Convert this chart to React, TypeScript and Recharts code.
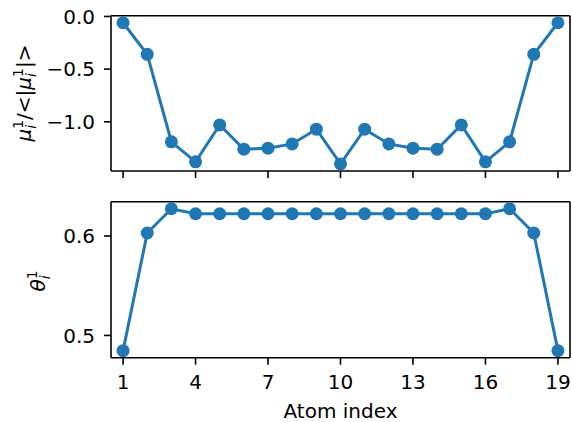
import { LineChart, Line, XAxis, YAxis } from "recharts";

// atom index along the chain
const atoms = [1, 2, 3, 4, 5, 6, 7, 8, 9, 10, 11, 12, 13, 14, 15, 16, 17, 18, 19];

// mu_i^1 / <|mu_i^1|>
const muRatio = [
  -0.06, -0.36, -1.19, -1.38, -1.03, -1.26, -1.25, -1.21, -1.07, -1.4,
  -1.07, -1.21, -1.25, -1.26, -1.03, -1.38, -1.19, -0.36, -0.06,
];

// theta_i^1
const theta = [
  0.4847, 0.603, 0.6274, 0.6224, 0.6224, 0.6224, 0.6224, 0.6224, 0.6224, 0.6224,
  0.6224, 0.6224, 0.6224, 0.6224, 0.6224, 0.6224, 0.6274, 0.603, 0.4847,
];

const xTicks = [1, 4, 7, 10, 13, 16, 19];
const muTicks = [0, -0.5, -1.0];
const thetaTicks = [0.5, 0.6];

const BLUE = "#1f77b4";
const FONT = "'DejaVu Sans', sans-serif";
const X_DOMAIN = [0.5, 19.5];

const muRows = atoms.map((a, i) => ({ atom: a, v: muRatio[i] }));
const thetaRows = atoms.map((a, i) => ({ atom: a, v: theta[i] }));

function fmt(v: number) {
  return v.toFixed(1).replace("-", "\u2212");
}

const tickStyle = { fill: "#000", fontSize: 20, fontFamily: FONT };
const frame = { stroke: "#000", strokeWidth: 1.6 };

// empty tick label, keeps the tick marks
const noLabel = () => <g />;

function MuLabel() {
  const cx = 31;
  const cy = 93;
  return (
    <text
      x={cx}
      y={cy}
      transform={`rotate(-90 ${cx} ${cy})`}
      textAnchor="middle"
      fontSize={20}
      fontFamily={FONT}
      fill="#000"
    >
      <tspan fontStyle="italic">μ</tspan>
      <tspan fontSize={14} dy={-8}>1</tspan>
      <tspan fontSize={14} fontStyle="italic" dx={-8.9} dy={13}>i</tspan>
      <tspan dx={5} dy={-5}>/&lt;|</tspan>
      <tspan fontStyle="italic">μ</tspan>
      <tspan fontSize={14} dy={-8}>1</tspan>
      <tspan fontSize={14} fontStyle="italic" dx={-8.9} dy={13}>i</tspan>
      <tspan dx={5} dy={-5}>|&gt;</tspan>
    </text>
  );
}

function ThetaLabel() {
  const cx = 45;
  const cy = 91;
  return (
    <text
      x={cx}
      y={cy}
      transform={`rotate(-90 ${cx} ${cy})`}
      textAnchor="middle"
      fontSize={20}
      fontFamily={FONT}
      fill="#000"
    >
      <tspan fontStyle="italic">θ</tspan>
      <tspan fontSize={14} dy={-8}>1</tspan>
      <tspan fontSize={14} fontStyle="italic" dx={-8.9} dy={13}>i</tspan>
    </text>
  );
}

function AtomLabel() {
  return (
    <text x={340.5} y={228} textAnchor="middle" fontSize={20} fontFamily={FONT} fill="#000">
      Atom index
    </text>
  );
}

export default function App() {
  return (
    <div style={{ position: "absolute", left: 0, top: 0, width: 572, height: 422, background: "#fff" }}>
      <div style={{ position: "absolute", left: 0, top: 0 }}>
        <LineChart width={572} height={190} data={muRows} margin={{ top: 14.7, right: 1, bottom: 0, left: 0 }}>
          <XAxis
            xAxisId="b"
            dataKey="atom"
            type="number"
            domain={X_DOMAIN}
            ticks={xTicks}
            allowDataOverflow
            tick={noLabel}
            tickSize={7}
            height={19}
            stroke="#000"
            axisLine={frame}
            tickLine={frame}
          />
          <XAxis
            xAxisId="t"
            orientation="top"
            type="number"
            domain={X_DOMAIN}
            ticks={xTicks}
            allowDataOverflow
            tick={false}
            tickLine={false}
            height={1}
            stroke="#000"
            axisLine={frame}
          />
          <YAxis
            yAxisId="l"
            type="number"
            domain={[-1.467, 0.007]}
            ticks={muTicks}
            allowDataOverflow
            tickFormatter={fmt}
            tick={tickStyle}
            tickSize={7}
            tickMargin={9}
            width={111}
            stroke="#000"
            axisLine={frame}
            tickLine={frame}
            label={{ content: () => <MuLabel /> }}
          />
          <YAxis
            yAxisId="r"
            orientation="right"
            type="number"
            domain={[0, 1]}
            ticks={[0, 1]}
            tick={false}
            tickLine={false}
            width={1}
            stroke="#000"
            axisLine={frame}
          />
          <Line
            xAxisId="b"
            yAxisId="l"
            dataKey="v"
            stroke={BLUE}
            strokeWidth={3}
            dot={{ r: 6.5, fill: BLUE, stroke: "none" }}
            activeDot={false}
            isAnimationActive={false}
          />
        </LineChart>
      </div>
      <div style={{ position: "absolute", left: 0, top: 190 }}>
        <LineChart width={572} height={232} data={thetaRows} margin={{ top: 10.7, right: 1, bottom: 0, left: 0 }}>
          <XAxis
            xAxisId="b"
            dataKey="atom"
            type="number"
            domain={X_DOMAIN}
            ticks={xTicks}
            allowDataOverflow
            tick={tickStyle}
            tickSize={7}
            tickMargin={10}
            height={64.3}
            stroke="#000"
            axisLine={frame}
            tickLine={frame}
            label={{ content: () => <AtomLabel /> }}
          />
          <XAxis
            xAxisId="t"
            orientation="top"
            type="number"
            domain={X_DOMAIN}
            ticks={xTicks}
            allowDataOverflow
            tick={false}
            tickLine={false}
            height={1}
            stroke="#000"
            axisLine={frame}
          />
          <YAxis
            yAxisId="l"
            type="number"
            domain={[0.4776, 0.6345]}
            ticks={thetaTicks}
            allowDataOverflow
            tickFormatter={fmt}
            tick={tickStyle}
            tickSize={7}
            tickMargin={9}
            width={111}
            stroke="#000"
            axisLine={frame}
            tickLine={frame}
            label={{ content: () => <ThetaLabel /> }}
          />
          <YAxis
            yAxisId="r"
            orientation="right"
            type="number"
            domain={[0, 1]}
            ticks={[0, 1]}
            tick={false}
            tickLine={false}
            width={1}
            stroke="#000"
            axisLine={frame}
          />
          <Line
            xAxisId="b"
            yAxisId="l"
            dataKey="v"
            stroke={BLUE}
            strokeWidth={3}
            dot={{ r: 6.5, fill: BLUE, stroke: "none" }}
            activeDot={false}
            isAnimationActive={false}
          />
        </LineChart>
      </div>
    </div>
  );
}
